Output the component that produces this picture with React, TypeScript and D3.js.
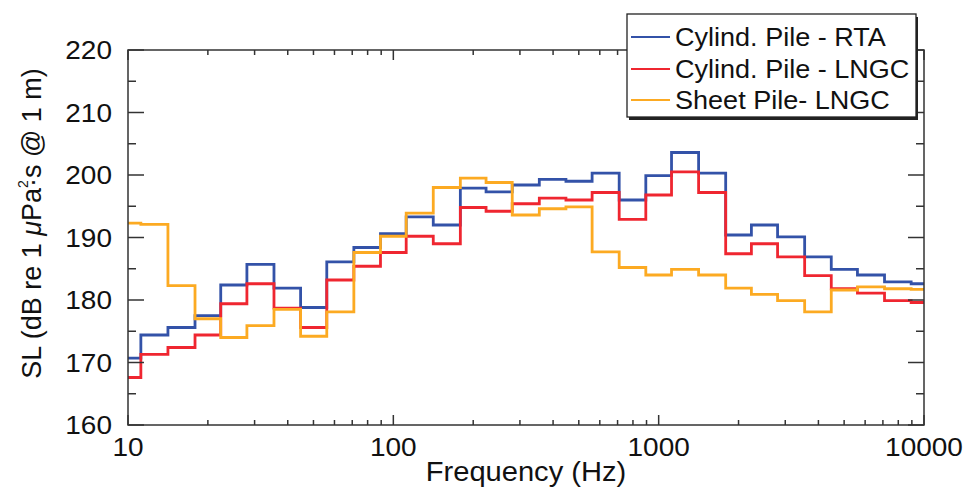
import React from "react";
import * as d3 from "d3";

const freqs = [10, 12.5, 16, 20, 25, 31.5, 40, 50, 63, 80, 100, 125, 160, 200, 250, 315, 400, 500, 630, 800, 1000, 1250, 1600, 2000, 2500, 3150, 4000, 5000, 6300, 8000, 10000];

const cylRTA = [170.7, 174.4, 175.6, 177.5, 182.4, 185.7, 181.9, 178.8, 186.1, 188.4, 190.6, 193.3, 192.0, 197.9, 197.3, 198.4, 199.3, 199.0, 200.3, 196.0, 199.9, 203.6, 200.3, 190.4, 192.0, 190.1, 186.9, 184.9, 184.0, 182.9, 182.6];
const cylLNGC = [167.6, 171.3, 172.4, 174.4, 179.4, 182.6, 178.7, 175.6, 183.2, 185.4, 187.6, 190.2, 189.0, 194.8, 194.2, 195.4, 196.3, 196.0, 197.2, 192.9, 196.8, 200.5, 197.2, 187.4, 189.0, 186.9, 183.9, 181.8, 181.1, 179.9, 179.6];
const sheetLNGC = [192.3, 192.1, 182.3, 177.0, 174.0, 175.9, 178.5, 174.2, 178.1, 187.6, 190.2, 193.9, 198.0, 199.5, 198.8, 193.6, 194.6, 194.9, 187.7, 185.2, 184.0, 184.9, 184.0, 181.9, 180.9, 179.9, 178.1, 181.6, 182.1, 181.8, 181.7];

const seriesNames = ["Cylind. Pile - RTA", "Cylind. Pile - LNGC", "Sheet Pile- LNGC"];
const seriesColors = ["#3352a8", "#ef2630", "#fcaa22"];
const seriesValues = [cylRTA, cylLNGC, sheetLNGC];

const xTickLabels = ["10", "100", "1000", "10000"];
const yTickValues = [160, 170, 180, 190, 200, 210, 220];

const FONT = "'Liberation Sans', Arial, Helvetica, sans-serif";

export default function App() {
  const W = 967, H = 491;
  const L = 128, R = 924, T = 50, B = 425;
  const x = d3.scaleLog().domain([10, 10000]).range([L, R]);
  const y = d3.scaleLinear().domain([160, 220]).range([B, T]);
  const axisColor = "#333";

  const line = d3
    .line<[number, number]>()
    .x((d) => x(d[0]))
    .y((d) => y(d[1]))
    .curve(d3.curveStep);

  const minorX: number[] = [];
  for (let dec = 10; dec < 10000; dec *= 10) {
    for (let k = 2; k <= 9; k++) minorX.push(dec * k);
  }
  const majorX = xTickLabels.map(Number);
  const minorY = d3.range(165, 220, 10);
  const legendRows = [37, 69, 100];

  return (
    <svg width={W} height={H} style={{ position: "absolute", left: 0, top: 0, background: "#fff" }} fontFamily={FONT}>
      <rect x={0} y={0} width={W} height={H} fill="#fff" />
      {seriesValues.map((vals, si) => (
        <path
          key={si}
          d={line(freqs.map((f, i) => [f, vals[i]] as [number, number])) || ""}
          fill="none"
          stroke={seriesColors[si]}
          strokeWidth={2.8}
          strokeLinejoin="miter"
        />
      ))}
      <rect x={L} y={T} width={R - L} height={B - T} fill="none" stroke={axisColor} strokeWidth={1.5} />
      {majorX.map((v) => (
        <g key={"mx" + v}>
          <line x1={x(v)} x2={x(v)} y1={B} y2={B - 10} stroke={axisColor} strokeWidth={1.5} />
          <line x1={x(v)} x2={x(v)} y1={T} y2={T + 10} stroke={axisColor} strokeWidth={1.5} />
        </g>
      ))}
      {minorX.map((v) => (
        <g key={"nx" + v}>
          <line x1={x(v)} x2={x(v)} y1={B} y2={B - 5} stroke={axisColor} strokeWidth={1.5} />
          <line x1={x(v)} x2={x(v)} y1={T} y2={T + 5} stroke={axisColor} strokeWidth={1.5} />
        </g>
      ))}
      {yTickValues.map((v) => (
        <g key={"my" + v}>
          <line x1={L} x2={L + 16} y1={y(v)} y2={y(v)} stroke={axisColor} strokeWidth={1.5} />
          <line x1={R} x2={R - 16} y1={y(v)} y2={y(v)} stroke={axisColor} strokeWidth={1.5} />
        </g>
      ))}
      {minorY.map((v) => (
        <g key={"ny" + v}>
          <line x1={L} x2={L + 8} y1={y(v)} y2={y(v)} stroke={axisColor} strokeWidth={1.5} />
          <line x1={R} x2={R - 8} y1={y(v)} y2={y(v)} stroke={axisColor} strokeWidth={1.5} />
        </g>
      ))}
      {yTickValues.map((v) => (
        <text key={"yl" + v} transform={`translate(112, ${y(v)}) scale(1.12, 1)`} dy="0.36em" textAnchor="end" fontSize={25} fill="#111">
          {v}
        </text>
      ))}
      {xTickLabels.map((t) => (
        <text key={"xl" + t} transform={`translate(${x(Number(t))}, 456) scale(1.12, 1)`} textAnchor="middle" fontSize={25} fill="#111">
          {t}
        </text>
      ))}
      <text transform={`translate(${(L + R) / 2}, 481) scale(1.04, 1)`} textAnchor="middle" fontSize={28} fill="#111">
        Frequency (Hz)
      </text>
      <text transform={`translate(41, ${(T + B) / 2 - 14}) rotate(-90)`} textAnchor="middle" fontSize={27} fill="#111">
        <tspan>SL (dB re 1 </tspan>
        <tspan fontStyle="italic">μ</tspan>
        <tspan>Pa</tspan>
        <tspan fontSize={14} dy={-13}>2</tspan>
        <tspan dx={-7} dy={13}>·s @ 1 m)</tspan>
      </text>
      <rect x={629} y={17} width={289} height={103} fill="#222" />
      <rect x={627} y={14} width={289} height={103} fill="#fff" stroke="#222" strokeWidth={1.3} />
      {seriesNames.map((n, i) => (
        <g key={"lg" + i}>
          <line x1={631} x2={670} y1={legendRows[i]} y2={legendRows[i]} stroke={seriesColors[i]} strokeWidth={2} />
          <text transform={`translate(675, ${legendRows[i]}) scale(1.04, 1)`} dy="0.36em" fontSize={26} fill="#111">
            {n}
          </text>
        </g>
      ))}
    </svg>
  );
}
